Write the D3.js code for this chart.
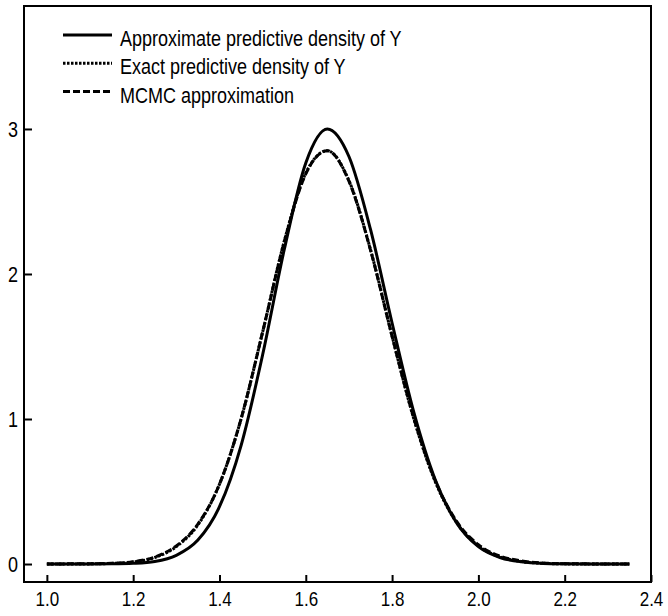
<!DOCTYPE html>
<html>
<head>
<meta charset="utf-8">
<script src="https://cdn.jsdelivr.net/npm/d3@7"></script>
<style>
  html, body { margin: 0; padding: 0; background: #fff; }
  svg text { font-family: "Liberation Sans", Arial, Helvetica, sans-serif; fill: #000; }
</style>
</head>
<body>
<div id="chart"></div>
<script>
// grid of y values (x axis)
var xValues = [1.00, 1.05, 1.10, 1.15, 1.20, 1.25, 1.30, 1.35, 1.40, 1.45, 1.50, 1.55, 1.60, 1.65,
               1.70, 1.75, 1.80, 1.85, 1.90, 1.95, 2.00, 2.05, 2.10, 2.15, 2.20, 2.25, 2.30, 2.35];

// approximate predictive density (solid)
var approxDensity = [0, 0, 0, 0.001, 0.005, 0.018, 0.06, 0.165, 0.395, 0.817, 1.443, 2.167, 2.766, 3.0,
                     2.81, 2.307, 1.662, 1.05, 0.581, 0.282, 0.12, 0.045, 0.015, 0.004, 0.001, 0, 0, 0];

// exact predictive density (dotted)
var exactDensity = [0, 0, 0.001, 0.004, 0.014, 0.045, 0.12, 0.27, 0.55, 1.0, 1.6, 2.225, 2.696, 2.85,
                    2.644, 2.168, 1.571, 1.005, 0.568, 0.284, 0.125, 0.049, 0.017, 0.005, 0.001, 0, 0, 0];

// MCMC approximation (dashed)
var mcmcDensity = [0, 0.001, 0.002, 0.005, 0.016, 0.048, 0.125, 0.275, 0.55, 1.0, 1.6, 2.22, 2.69, 2.85,
                   2.64, 2.165, 1.57, 1.01, 0.575, 0.292, 0.133, 0.055, 0.021, 0.007, 0.002, 0.001, 0, 0];

var xTicks = [1.0, 1.2, 1.4, 1.6, 1.8, 2.0, 2.2, 2.4];
var yTicks = [0, 1, 2, 3];

var legendLabels = ["Approximate predictive density of Y", "Exact predictive density of Y", "MCMC approximation"];

var width = 668, height = 616;
var margin = {top: 6, right: 17, bottom: 34, left: 24};

var svg = d3.select("#chart")
    .append("svg")
    .attr("width", width)
    .attr("height", height);

var xScale = d3.scaleLinear()
    .domain([0.947, 2.4])
    .range([margin.left, width - margin.right]);

var yScale = d3.scaleLinear()
    .domain([-0.124, 3.848])
    .range([height - margin.bottom, margin.top]);

// curves
var series = [
    {values: approxDensity, dash: null, width: 3},
    {values: exactDensity, dash: "2.5,1.5", width: 3},
    {values: mcmcDensity, dash: "7,3", width: 3}
];

var line = d3.line()
    .x(function(d) { return xScale(d[0]); })
    .y(function(d) { return yScale(d[1]); })
    .curve(d3.curveMonotoneX);

// draw dashed first, dotted on top, solid on top
[2, 1, 0].forEach(function(i) {
    var s = series[i];
    svg.append("path")
        .datum(xValues.map(function(x, j) { return [x, s.values[j]]; }))
        .attr("fill", "none")
        .attr("stroke", "#000")
        .attr("stroke-width", s.width)
        .attr("stroke-dasharray", s.dash)
        .attr("d", line);
});

// frame
svg.append("rect")
    .attr("x", margin.left)
    .attr("y", margin.top)
    .attr("width", width - margin.left - margin.right)
    .attr("height", height - margin.top - margin.bottom)
    .attr("fill", "none")
    .attr("stroke", "#000")
    .attr("stroke-width", 2);

// x axis, ticks pointing inward
var xAxis = svg.append("g")
    .attr("transform", "translate(0," + (height - margin.bottom) + ")")
    .call(d3.axisBottom(xScale)
        .tickValues(xTicks)
        .tickFormat(d3.format(".1f"))
        .tickSize(-7));
xAxis.select(".domain").remove();
xAxis.selectAll(".tick line").attr("stroke-width", 2);
xAxis.selectAll(".tick text")
    .attr("font-size", 17)
    .attr("y", 0)
    .attr("dy", 0)
    .attr("transform", "translate(0,24) scale(1,1.2)");

// y axis, ticks pointing inward
var yAxis = svg.append("g")
    .attr("transform", "translate(" + margin.left + ",0)")
    .call(d3.axisLeft(yScale)
        .tickValues(yTicks)
        .tickFormat(d3.format("d"))
        .tickSize(-8)
        .tickPadding(6));
yAxis.select(".domain").remove();
yAxis.selectAll(".tick line").attr("stroke-width", 2);
yAxis.selectAll(".tick text")
    .attr("font-size", 18)
    .attr("dy", "0.36em")
    .attr("transform", "scale(1,1.2)");

// legend
var legend = svg.append("g").attr("class", "legend");
legendLabels.forEach(function(label, i) {
    var ly = 35 + i * 28.3;
    legend.append("line")
        .attr("x1", 63).attr("x2", 112)
        .attr("y1", ly).attr("y2", ly)
        .attr("stroke", "#000")
        .attr("stroke-width", 3)
        .attr("stroke-dasharray", series[i].dash);
    legend.append("text")
        .attr("transform", "translate(120," + (ly + 11) + ") scale(1,1.19)")
        .attr("font-size", 18)
        .text(label);
});
</script>
</body>
</html>
